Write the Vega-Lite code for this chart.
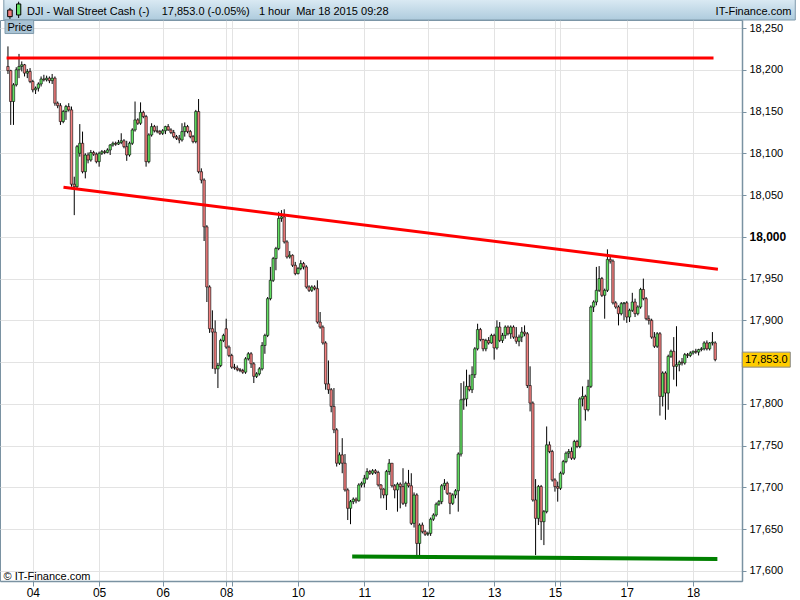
{
"$schema": "https://vega.github.io/schema/vega-lite/v6.json",
"width": 742,
"height": 561,
"autosize": {"type": "none"},
"padding": {"left": 0, "top": 20, "right": 58, "bottom": 19},
"background": "white",
"config": {
  "view": {"stroke": "#7a92a2", "strokeWidth": 1},
  "font": "Liberation Sans",
  "axis": {"labelFont": "Liberation Sans", "titleFont": "Liberation Sans"},
  "text": {"font": "Liberation Sans"}
},
"datasets": {
"ohlc": [
{"i":0,"o":18204,"h":18228,"l":18195,"c":18199},
{"i":1,"o":18199,"h":18200,"l":18134,"c":18162},
{"i":2,"o":18162,"h":18184,"l":18134,"c":18182},
{"i":3,"o":18182,"h":18203,"l":18180,"c":18200},
{"i":4,"o":18200,"h":18219,"l":18190,"c":18204},
{"i":5,"o":18204,"h":18210,"l":18198,"c":18206},
{"i":6,"o":18206,"h":18207,"l":18192,"c":18196},
{"i":7,"o":18196,"h":18201,"l":18190,"c":18198},
{"i":8,"o":18198,"h":18202,"l":18184,"c":18186},
{"i":9,"o":18186,"h":18188,"l":18173,"c":18176},
{"i":10,"o":18176,"h":18180,"l":18171,"c":18178},
{"i":11,"o":18178,"h":18185,"l":18174,"c":18183},
{"i":12,"o":18183,"h":18192,"l":18180,"c":18189},
{"i":13,"o":18189,"h":18194,"l":18186,"c":18188},
{"i":14,"o":18188,"h":18193,"l":18186,"c":18190},
{"i":15,"o":18190,"h":18192,"l":18184,"c":18187},
{"i":16,"o":18187,"h":18195,"l":18183,"c":18190},
{"i":17,"o":18190,"h":18192,"l":18157,"c":18160},
{"i":18,"o":18160,"h":18162,"l":18154,"c":18157},
{"i":19,"o":18157,"h":18160,"l":18134,"c":18138},
{"i":20,"o":18138,"h":18152,"l":18136,"c":18150},
{"i":21,"o":18150,"h":18158,"l":18140,"c":18156},
{"i":22,"o":18156,"h":18160,"l":18150,"c":18152},
{"i":23,"o":18152,"h":18156,"l":18060,"c":18063},
{"i":24,"o":18063,"h":18072,"l":18026,"c":18060},
{"i":25,"o":18060,"h":18110,"l":18058,"c":18108},
{"i":26,"o":18100,"h":18135,"l":18096,"c":18112},
{"i":27,"o":18112,"h":18126,"l":18076,"c":18078},
{"i":28,"o":18078,"h":18100,"l":18070,"c":18098},
{"i":29,"o":18098,"h":18101,"l":18088,"c":18092},
{"i":30,"o":18092,"h":18104,"l":18090,"c":18101},
{"i":31,"o":18101,"h":18103,"l":18097,"c":18099},
{"i":32,"o":18099,"h":18101,"l":18088,"c":18090},
{"i":33,"o":18090,"h":18102,"l":18084,"c":18100},
{"i":34,"o":18100,"h":18104,"l":18098,"c":18102},
{"i":35,"o":18102,"h":18104,"l":18099,"c":18101},
{"i":36,"o":18101,"h":18106,"l":18100,"c":18104},
{"i":37,"o":18104,"h":18111,"l":18098,"c":18110},
{"i":38,"o":18110,"h":18114,"l":18108,"c":18112},
{"i":39,"o":18112,"h":18114,"l":18109,"c":18111},
{"i":40,"o":18111,"h":18116,"l":18110,"c":18113},
{"i":41,"o":18113,"h":18124,"l":18111,"c":18115},
{"i":42,"o":18115,"h":18117,"l":18106,"c":18108},
{"i":43,"o":18108,"h":18115,"l":18091,"c":18098},
{"i":44,"o":18098,"h":18114,"l":18096,"c":18112},
{"i":45,"o":18112,"h":18130,"l":18110,"c":18128},
{"i":46,"o":18128,"h":18162,"l":18126,"c":18140},
{"i":47,"o":18140,"h":18142,"l":18134,"c":18136},
{"i":48,"o":18136,"h":18161,"l":18134,"c":18149},
{"i":49,"o":18149,"h":18151,"l":18142,"c":18144},
{"i":50,"o":18144,"h":18146,"l":18084,"c":18090},
{"i":51,"o":18090,"h":18124,"l":18088,"c":18122},
{"i":52,"o":18122,"h":18136,"l":18120,"c":18132},
{"i":53,"o":18132,"h":18134,"l":18125,"c":18127},
{"i":54,"o":18127,"h":18133,"l":18124,"c":18126},
{"i":55,"o":18126,"h":18128,"l":18122,"c":18124},
{"i":56,"o":18124,"h":18129,"l":18122,"c":18127},
{"i":57,"o":18127,"h":18133,"l":18123,"c":18132},
{"i":58,"o":18132,"h":18135,"l":18127,"c":18128},
{"i":59,"o":18128,"h":18130,"l":18123,"c":18125},
{"i":60,"o":18125,"h":18128,"l":18118,"c":18120},
{"i":61,"o":18120,"h":18122,"l":18116,"c":18118},
{"i":62,"o":18118,"h":18122,"l":18112,"c":18116},
{"i":63,"o":18116,"h":18136,"l":18114,"c":18126},
{"i":64,"o":18126,"h":18137,"l":18120,"c":18132},
{"i":65,"o":18132,"h":18134,"l":18124,"c":18126},
{"i":66,"o":18126,"h":18128,"l":18118,"c":18120},
{"i":67,"o":18120,"h":18122,"l":18112,"c":18114},
{"i":68,"o":18114,"h":18152,"l":18112,"c":18150},
{"i":69,"o":18150,"h":18165,"l":18076,"c":18078},
{"i":70,"o":18078,"h":18082,"l":18064,"c":18068},
{"i":71,"o":18068,"h":18070,"l":17995,"c":18012},
{"i":72,"o":18012,"h":18014,"l":17922,"c":17940},
{"i":73,"o":17940,"h":17942,"l":17885,"c":17890},
{"i":74,"o":17890,"h":17912,"l":17842,"c":17886},
{"i":75,"o":17886,"h":17900,"l":17836,"c":17842},
{"i":76,"o":17842,"h":17849,"l":17819,"c":17846},
{"i":77,"o":17846,"h":17878,"l":17844,"c":17876},
{"i":78,"o":17876,"h":17884,"l":17874,"c":17882},
{"i":79,"o":17890,"h":17902,"l":17866,"c":17868},
{"i":80,"o":17868,"h":17870,"l":17856,"c":17858},
{"i":81,"o":17858,"h":17860,"l":17842,"c":17844},
{"i":82,"o":17844,"h":17848,"l":17841,"c":17843},
{"i":83,"o":17843,"h":17846,"l":17839,"c":17841},
{"i":84,"o":17841,"h":17843,"l":17838,"c":17840},
{"i":85,"o":17840,"h":17842,"l":17836,"c":17838},
{"i":86,"o":17838,"h":17856,"l":17836,"c":17854},
{"i":87,"o":17854,"h":17862,"l":17852,"c":17860},
{"i":88,"o":17860,"h":17862,"l":17843,"c":17848},
{"i":89,"o":17848,"h":17850,"l":17825,"c":17833},
{"i":90,"o":17833,"h":17838,"l":17831,"c":17836},
{"i":91,"o":17836,"h":17844,"l":17834,"c":17842},
{"i":92,"o":17842,"h":17874,"l":17840,"c":17870},
{"i":93,"o":17870,"h":17884,"l":17860,"c":17882},
{"i":94,"o":17882,"h":17928,"l":17880,"c":17926},
{"i":95,"o":17926,"h":17964,"l":17924,"c":17948},
{"i":96,"o":17948,"h":17976,"l":17946,"c":17974},
{"i":97,"o":17974,"h":17988,"l":17960,"c":17986},
{"i":98,"o":17986,"h":18030,"l":17984,"c":18022},
{"i":99,"o":18022,"h":18032,"l":18018,"c":18024},
{"i":100,"o":18024,"h":18033,"l":17992,"c":17994},
{"i":101,"o":17994,"h":17996,"l":17974,"c":17976},
{"i":102,"o":17976,"h":17983,"l":17974,"c":17978},
{"i":103,"o":17978,"h":17979,"l":17964,"c":17966},
{"i":104,"o":17966,"h":17970,"l":17954,"c":17956},
{"i":105,"o":17956,"h":17964,"l":17955,"c":17962},
{"i":106,"o":17962,"h":17972,"l":17960,"c":17968},
{"i":107,"o":17968,"h":17970,"l":17961,"c":17964},
{"i":108,"o":17964,"h":17966,"l":17938,"c":17940},
{"i":109,"o":17940,"h":17942,"l":17934,"c":17936},
{"i":110,"o":17936,"h":17942,"l":17934,"c":17940},
{"i":111,"o":17940,"h":17942,"l":17936,"c":17938},
{"i":112,"o":17938,"h":17948,"l":17896,"c":17898},
{"i":113,"o":17898,"h":17910,"l":17890,"c":17892},
{"i":114,"o":17892,"h":17894,"l":17871,"c":17873},
{"i":115,"o":17873,"h":17875,"l":17817,"c":17824},
{"i":116,"o":17824,"h":17852,"l":17812,"c":17817},
{"i":117,"o":17817,"h":17819,"l":17790,"c":17797},
{"i":118,"o":17797,"h":17819,"l":17765,"c":17769},
{"i":119,"o":17769,"h":17771,"l":17725,"c":17729},
{"i":120,"o":17729,"h":17742,"l":17727,"c":17739},
{"i":121,"o":17739,"h":17759,"l":17717,"c":17729},
{"i":122,"o":17729,"h":17740,"l":17695,"c":17697},
{"i":123,"o":17697,"h":17699,"l":17661,"c":17675},
{"i":124,"o":17675,"h":17685,"l":17656,"c":17683},
{"i":125,"o":17683,"h":17688,"l":17680,"c":17686},
{"i":126,"o":17686,"h":17688,"l":17681,"c":17684},
{"i":127,"o":17684,"h":17705,"l":17683,"c":17703},
{"i":128,"o":17703,"h":17707,"l":17700,"c":17705},
{"i":129,"o":17705,"h":17715,"l":17700,"c":17711},
{"i":130,"o":17711,"h":17723,"l":17709,"c":17719},
{"i":131,"o":17719,"h":17721,"l":17715,"c":17717},
{"i":132,"o":17717,"h":17722,"l":17715,"c":17720},
{"i":133,"o":17720,"h":17722,"l":17716,"c":17718},
{"i":134,"o":17718,"h":17720,"l":17701,"c":17703},
{"i":135,"o":17703,"h":17704,"l":17687,"c":17698},
{"i":136,"o":17698,"h":17699,"l":17687,"c":17691},
{"i":137,"o":17691,"h":17721,"l":17673,"c":17719},
{"i":138,"o":17719,"h":17734,"l":17715,"c":17729},
{"i":139,"o":17729,"h":17729,"l":17700,"c":17702},
{"i":140,"o":17702,"h":17704,"l":17687,"c":17697},
{"i":141,"o":17697,"h":17706,"l":17671,"c":17704},
{"i":142,"o":17704,"h":17706,"l":17675,"c":17701},
{"i":143,"o":17701,"h":17723,"l":17679,"c":17681},
{"i":144,"o":17681,"h":17707,"l":17677,"c":17705},
{"i":145,"o":17705,"h":17721,"l":17700,"c":17702},
{"i":146,"o":17702,"h":17717,"l":17655,"c":17657},
{"i":147,"o":17657,"h":17694,"l":17652,"c":17691},
{"i":148,"o":17691,"h":17693,"l":17618,"c":17633},
{"i":149,"o":17633,"h":17657,"l":17618,"c":17655},
{"i":150,"o":17655,"h":17658,"l":17645,"c":17647},
{"i":151,"o":17647,"h":17649,"l":17642,"c":17644},
{"i":152,"o":17644,"h":17647,"l":17642,"c":17645},
{"i":153,"o":17645,"h":17664,"l":17642,"c":17662},
{"i":154,"o":17662,"h":17669,"l":17660,"c":17667},
{"i":155,"o":17667,"h":17682,"l":17665,"c":17680},
{"i":156,"o":17680,"h":17685,"l":17678,"c":17683},
{"i":157,"o":17683,"h":17704,"l":17680,"c":17702},
{"i":158,"o":17702,"h":17710,"l":17697,"c":17705},
{"i":159,"o":17705,"h":17707,"l":17691,"c":17693},
{"i":160,"o":17693,"h":17694,"l":17668,"c":17681},
{"i":161,"o":17681,"h":17693,"l":17679,"c":17691},
{"i":162,"o":17691,"h":17698,"l":17687,"c":17696},
{"i":163,"o":17696,"h":17742,"l":17671,"c":17740},
{"i":164,"o":17740,"h":17825,"l":17737,"c":17805},
{"i":165,"o":17805,"h":17827,"l":17793,"c":17806},
{"i":166,"o":17806,"h":17841,"l":17797,"c":17821},
{"i":167,"o":17821,"h":17835,"l":17815,"c":17817},
{"i":168,"o":17817,"h":17845,"l":17813,"c":17835},
{"i":169,"o":17835,"h":17868,"l":17831,"c":17866},
{"i":170,"o":17866,"h":17896,"l":17864,"c":17889},
{"i":171,"o":17889,"h":17891,"l":17875,"c":17877},
{"i":172,"o":17877,"h":17878,"l":17863,"c":17866},
{"i":173,"o":17866,"h":17878,"l":17863,"c":17876},
{"i":174,"o":17876,"h":17880,"l":17871,"c":17873},
{"i":175,"o":17873,"h":17884,"l":17872,"c":17882},
{"i":176,"o":17882,"h":17884,"l":17853,"c":17867},
{"i":177,"o":17867,"h":17900,"l":17865,"c":17892},
{"i":178,"o":17892,"h":17898,"l":17874,"c":17876},
{"i":179,"o":17876,"h":17885,"l":17873,"c":17882},
{"i":180,"o":17882,"h":17894,"l":17878,"c":17892},
{"i":181,"o":17892,"h":17894,"l":17882,"c":17884},
{"i":182,"o":17884,"h":17894,"l":17878,"c":17892},
{"i":183,"o":17892,"h":17894,"l":17878,"c":17880},
{"i":184,"o":17880,"h":17892,"l":17872,"c":17875},
{"i":185,"o":17875,"h":17883,"l":17869,"c":17880},
{"i":186,"o":17880,"h":17892,"l":17874,"c":17886},
{"i":187,"o":17886,"h":17894,"l":17881,"c":17884},
{"i":188,"o":17884,"h":17886,"l":17819,"c":17822},
{"i":189,"o":17822,"h":17845,"l":17791,"c":17801},
{"i":190,"o":17801,"h":17803,"l":17683,"c":17685},
{"i":191,"o":17685,"h":17710,"l":17619,"c":17663},
{"i":192,"o":17663,"h":17703,"l":17655,"c":17701},
{"i":193,"o":17701,"h":17703,"l":17637,"c":17659},
{"i":194,"o":17659,"h":17673,"l":17631,"c":17671},
{"i":195,"o":17671,"h":17773,"l":17669,"c":17751},
{"i":196,"o":17751,"h":17755,"l":17741,"c":17743},
{"i":197,"o":17743,"h":17745,"l":17707,"c":17709},
{"i":198,"o":17709,"h":17711,"l":17695,"c":17701},
{"i":199,"o":17701,"h":17707,"l":17683,"c":17699},
{"i":200,"o":17699,"h":17719,"l":17697,"c":17717},
{"i":201,"o":17717,"h":17733,"l":17715,"c":17731},
{"i":202,"o":17731,"h":17743,"l":17729,"c":17741},
{"i":203,"o":17741,"h":17746,"l":17735,"c":17743},
{"i":204,"o":17743,"h":17748,"l":17733,"c":17735},
{"i":205,"o":17735,"h":17757,"l":17733,"c":17755},
{"i":206,"o":17755,"h":17757,"l":17747,"c":17749},
{"i":207,"o":17749,"h":17808,"l":17747,"c":17806},
{"i":208,"o":17806,"h":17821,"l":17797,"c":17809},
{"i":209,"o":17809,"h":17811,"l":17780,"c":17793},
{"i":210,"o":17793,"h":17829,"l":17791,"c":17821},
{"i":211,"o":17821,"h":17918,"l":17819,"c":17916},
{"i":212,"o":17916,"h":17924,"l":17910,"c":17922},
{"i":213,"o":17922,"h":17964,"l":17918,"c":17936},
{"i":214,"o":17936,"h":17965,"l":17934,"c":17950},
{"i":215,"o":17950,"h":17952,"l":17928,"c":17930},
{"i":216,"o":17930,"h":17938,"l":17902,"c":17936},
{"i":217,"o":17936,"h":17985,"l":17934,"c":17973},
{"i":218,"o":17973,"h":17976,"l":17968,"c":17971},
{"i":219,"o":17971,"h":17973,"l":17919,"c":17921},
{"i":220,"o":17921,"h":17923,"l":17914,"c":17916},
{"i":221,"o":17916,"h":17918,"l":17894,"c":17908},
{"i":222,"o":17908,"h":17922,"l":17906,"c":17920},
{"i":223,"o":17920,"h":17922,"l":17900,"c":17921},
{"i":224,"o":17921,"h":17923,"l":17897,"c":17904},
{"i":225,"o":17904,"h":17914,"l":17898,"c":17912},
{"i":226,"o":17912,"h":17933,"l":17910,"c":17922},
{"i":227,"o":17922,"h":17926,"l":17904,"c":17908},
{"i":228,"o":17908,"h":17918,"l":17906,"c":17916},
{"i":229,"o":17916,"h":17939,"l":17914,"c":17937},
{"i":230,"o":17937,"h":17950,"l":17924,"c":17926},
{"i":231,"o":17926,"h":17928,"l":17900,"c":17902},
{"i":232,"o":17902,"h":17906,"l":17895,"c":17900},
{"i":233,"o":17900,"h":17902,"l":17878,"c":17880},
{"i":234,"o":17880,"h":17886,"l":17867,"c":17869},
{"i":235,"o":17869,"h":17886,"l":17867,"c":17884},
{"i":236,"o":17884,"h":17886,"l":17786,"c":17809},
{"i":237,"o":17809,"h":17839,"l":17797,"c":17837},
{"i":238,"o":17837,"h":17839,"l":17781,"c":17813},
{"i":239,"o":17813,"h":17859,"l":17793,"c":17857},
{"i":240,"o":17857,"h":17865,"l":17855,"c":17863},
{"i":241,"o":17863,"h":17880,"l":17829,"c":17845},
{"i":242,"o":17845,"h":17893,"l":17821,"c":17847},
{"i":243,"o":17847,"h":17852,"l":17839,"c":17850},
{"i":244,"o":17850,"h":17855,"l":17846,"c":17849},
{"i":245,"o":17849,"h":17861,"l":17847,"c":17859},
{"i":246,"o":17859,"h":17861,"l":17855,"c":17858},
{"i":247,"o":17858,"h":17863,"l":17856,"c":17861},
{"i":248,"o":17861,"h":17864,"l":17859,"c":17863},
{"i":249,"o":17863,"h":17866,"l":17860,"c":17862},
{"i":250,"o":17862,"h":17866,"l":17858,"c":17865},
{"i":251,"o":17865,"h":17868,"l":17863,"c":17866},
{"i":252,"o":17866,"h":17875,"l":17864,"c":17873},
{"i":253,"o":17873,"h":17876,"l":17864,"c":17866},
{"i":254,"o":17866,"h":17874,"l":17864,"c":17873},
{"i":255,"o":17873,"h":17886,"l":17870,"c":17874},
{"i":256,"o":17873,"h":17875,"l":17851,"c":17853}
]
},
"layer": [
{
  "data": {"values": [{}]},
  "mark": {"type": "rect", "clip": false, "stroke": "#7f9aab", "strokeWidth": 1,
    "fill": {"gradient": "linear", "x1": 0, "y1": 0, "x2": 0, "y2": 1,
      "stops": [{"offset": 0, "color": "#dcebf4"}, {"offset": 1, "color": "#aecbdd"}]}},
  "encoding": {
    "x": {"datum": -1.5, "type": "quantitative", "scale": {"domain": [-1.07, 263.9], "nice": false, "zero": false}},
    "x2": {"datum": 285},
    "y": {"datum": 18259.6, "type": "quantitative", "scale": {"domain": [17588, 18259.6], "nice": false, "zero": false}},
    "y2": {"datum": 18285}
  }
},
{
  "data": {"values": [{}]},
  "mark": {"type": "rule", "clip": false, "color": "#000000", "strokeWidth": 1},
  "encoding": {
    "x": {"datum": 0.72, "type": "quantitative"},
    "y": {"datum": 18274, "type": "quantitative"},
    "y2": {"datum": 18261}
  }
},
{
  "data": {"values": [{}]},
  "mark": {"type": "rect", "clip": false, "fill": "#f37f7f", "stroke": "#000000", "strokeWidth": 1},
  "encoding": {
    "x": {"datum": -0.1, "type": "quantitative"},
    "x2": {"datum": 1.54},
    "y": {"datum": 18271.6, "type": "quantitative"},
    "y2": {"datum": 18263.6}
  }
},
{
  "data": {"values": [{}]},
  "mark": {"type": "rule", "clip": false, "color": "#000000", "strokeWidth": 1},
  "encoding": {
    "x": {"datum": 3.87, "type": "quantitative"},
    "y": {"datum": 18281.5, "type": "quantitative"},
    "y2": {"datum": 18262}
  }
},
{
  "data": {"values": [{}]},
  "mark": {"type": "rect", "clip": false, "fill": "#62e062", "stroke": "#000000", "strokeWidth": 1},
  "encoding": {
    "x": {"datum": 3.1, "type": "quantitative"},
    "x2": {"datum": 4.64},
    "y": {"datum": 18278.8, "type": "quantitative"},
    "y2": {"datum": 18265.6}
  }
},
{
  "data": {"values": [{"t": "DJI - Wall Street Cash (-)\u00a0\u00a0\u00a0\u00a017,853.0 (-0.05%)\u00a0\u00a0\u00a01 hour\u00a0\u00a0Mar 18 2015 09:28"}]},
  "mark": {"type": "text", "clip": false, "align": "left", "baseline": "alphabetic", "fontSize": 11, "color": "#000000"},
  "encoding": {
    "x": {"datum": 6.9, "type": "quantitative"},
    "y": {"datum": 18265.6, "type": "quantitative"},
    "text": {"field": "t"}
  }
},
{
  "data": {"values": [{"t": "IT-Finance.com"}]},
  "mark": {"type": "text", "clip": false, "align": "right", "baseline": "alphabetic", "fontSize": 11, "color": "#000000"},
  "encoding": {
    "x": {"datum": 283.6, "type": "quantitative"},
    "y": {"datum": 18265.6, "type": "quantitative"},
    "text": {"field": "t"}
  }
},
{
  "data": {"values": [{}]},
  "mark": {"type": "rect", "clip": false, "fill": "#a9c3d4", "stroke": "#7f9aab", "strokeWidth": 1},
  "encoding": {
    "x": {"datum": -1.07, "type": "quantitative"},
    "x2": {"datum": 9.3},
    "y": {"datum": 18259.6, "type": "quantitative"},
    "y2": {"datum": 18243.4}
  }
},
{
  "data": {"values": [{"t": "Price"}]},
  "mark": {"type": "text", "clip": false, "align": "left", "baseline": "alphabetic", "fontSize": 11, "color": "#000000"},
  "encoding": {
    "x": {"datum": -0.2, "type": "quantitative"},
    "y": {"datum": 18246.6, "type": "quantitative"},
    "text": {"field": "t"}
  }
},
{
  "data": {"name": "ohlc"},
  "mark": {"type": "rule", "color": "#000000", "strokeWidth": 1},
  "encoding": {
    "x": {"field": "i", "type": "quantitative"},
    "y": {"field": "l", "type": "quantitative"},
    "y2": {"field": "h"}
  }
},
{
  "data": {"name": "ohlc"},
  "mark": {"type": "bar", "width": 2.4, "stroke": "#000000", "strokeWidth": 0.6},
  "encoding": {
    "x": {"field": "i", "type": "quantitative", "title": "\u00a9 IT-Finance.com",
      "axis": {"orient": "bottom", "values": [9,33,56,79,81,105,129,152,176,198,200,224,248],
        "labelExpr": "['04','05','06','08','10','11','12','13','15','17','18'][indexof([9,33,56,79,105,129,152,176,198,224,248], datum.value)] || ''",
        "labelOverlap": false, "labelFlush": false, "grid": true, "gridColor": "#e3e3e3",
        "domainColor": "#7a92a2", "domainWidth": 1.5, "tickColor": "#7a92a2", "tickSize": 5,
        "labelFontSize": 12, "labelColor": "#000000", "labelPadding": 1,
        "titleX": 3, "titleY": -2, "titleAlign": "left", "titleAnchor": "start", "titleBaseline": "alphabetic",
        "titleFontSize": 11, "titleFontWeight": "normal", "titleColor": "#000000"}},
    "y": {"field": "o", "type": "quantitative", "title": null,
      "axis": {"orient": "right", "values": [17600,17650,17700,17750,17800,17850,17900,17950,18000,18050,18100,18150,18200,18250],
        "labelExpr": "datum.value == 17850 ? '' : format(datum.value, ',d')",
        "grid": true, "gridColor": "#e3e3e3", "labelFlush": false, "labelOverlap": false,
        "domainColor": "#7a92a2", "domainWidth": 1.5, "tickColor": "#7a92a2", "tickSize": 4,
        "labelFontSize": {"condition": {"test": "datum.value == 18000", "value": 12}, "value": 11},
        "labelFontWeight": {"condition": {"test": "datum.value == 18000", "value": "bold"}, "value": "normal"},
        "labelColor": "#000000", "labelPadding": 3}},
    "y2": {"field": "c"},
    "color": {"condition": {"test": "datum.c >= datum.o", "value": "#62e062"}, "value": "#f37f7f"}
  }
},
{
  "data": {"values": [{"i1": -0.5, "p1": 18214, "i2": 255.4, "p2": 18214}, {"i1": 20.1, "p1": 18059.3, "i2": 257, "p2": 17961.2}]},
  "mark": {"type": "rule", "color": "#ff0000", "strokeWidth": 3},
  "encoding": {
    "x": {"field": "i1", "type": "quantitative"},
    "x2": {"field": "i2"},
    "y": {"field": "p1", "type": "quantitative"},
    "y2": {"field": "p2"}
  }
},
{
  "data": {"values": [{"i1": 124.6, "p1": 17617.4, "i2": 256.8, "p2": 17614.4}]},
  "mark": {"type": "rule", "color": "#008000", "strokeWidth": 4},
  "encoding": {
    "x": {"field": "i1", "type": "quantitative"},
    "x2": {"field": "i2"},
    "y": {"field": "p1", "type": "quantitative"},
    "y2": {"field": "p2"}
  }
},
{
  "data": {"values": [{"p": 17853, "label": "17,853.0"}]},
  "mark": {"type": "tick", "clip": false, "orient": "horizontal", "size": 48, "thickness": 15, "color": "#ffcc00", "stroke": "#8a8a8a", "strokeWidth": 1, "opacity": 1},
  "encoding": {
    "x": {"datum": 274.5, "type": "quantitative"},
    "y": {"field": "p", "type": "quantitative"}
  }
},
{
  "data": {"values": [{"p": 17853, "label": "17,853.0"}]},
  "mark": {"type": "text", "clip": false, "align": "center", "baseline": "middle", "fontSize": 11, "color": "#000000"},
  "encoding": {
    "x": {"datum": 274.5, "type": "quantitative"},
    "y": {"field": "p", "type": "quantitative"},
    "text": {"field": "label"}
  }
}
]
}
